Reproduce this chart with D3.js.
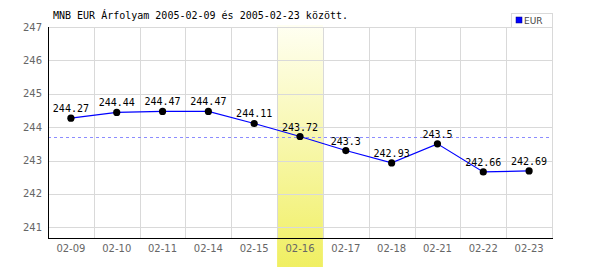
<!DOCTYPE html>
<html>
<head>
<meta charset="utf-8">
<script src="https://cdn.jsdelivr.net/npm/d3@7"></script>
<style>
  body { margin: 0; background: #fff; }
  svg { display: block; }
</style>
</head>
<body>
<svg id="chart-svg" width="600" height="270"></svg>
<script>
const dates = ["02-09", "02-10", "02-11", "02-14", "02-15", "02-16", "02-17", "02-18", "02-21", "02-22", "02-23"];
const rates = [244.27, 244.44, 244.47, 244.47, 244.11, 243.72, 243.3, 242.93, 243.5, 242.66, 242.69];
const yTicks = [241, 242, 243, 244, 245, 246, 247];
const highlighted = "02-16";
const titleText = "MNB EUR Árfolyam 2005-02-09 és 2005-02-23 között.";
const seriesName = "EUR";

const svg = d3.select("#chart-svg");
const margin = { top: 27, right: 48, bottom: 32, left: 48 };
const width = 600, height = 270;

const x = d3.scaleBand()
    .domain(dates)
    .range([margin.left, width - margin.right]);

const y = d3.scaleLinear()
    .domain([240.68, 247])
    .range([height - margin.bottom, margin.top]);

// reference line at the highlighted day's rate
const refRate = rates[dates.indexOf(highlighted)];

// highlight gradient for current day
const defs = svg.append("defs");
const grad = defs.append("linearGradient")
    .attr("id", "hl").attr("x1", 0).attr("y1", 0).attr("x2", 0).attr("y2", 1);
grad.append("stop").attr("offset", "0%").attr("stop-color", "#fffff2");
grad.append("stop").attr("offset", "100%").attr("stop-color", "#f0ef62");

svg.append("rect")
    .attr("x", x(highlighted))
    .attr("y", margin.top - 2)
    .attr("width", x.bandwidth())
    .attr("height", height - 3 - (margin.top - 2))
    .attr("fill", "url(#hl)");

// horizontal gridlines
svg.append("g")
    .selectAll("line")
    .data(yTicks)
    .join("line")
    .attr("x1", margin.left)
    .attr("x2", width - margin.right)
    .attr("y1", d => Math.round(y(d)) + 0.5)
    .attr("y2", d => Math.round(y(d)) + 0.5)
    .attr("stroke", "#d9d9d9");

// vertical gridlines (band edges)
svg.append("g")
    .selectAll("line")
    .data(dates)
    .join("line")
    .attr("x1", d => Math.round(x(d) + x.bandwidth()) + 0.5)
    .attr("x2", d => Math.round(x(d) + x.bandwidth()) + 0.5)
    .attr("y1", margin.top)
    .attr("y2", height - margin.bottom)
    .attr("stroke", "#d9d9d9");

// dashed reference line
svg.append("line")
    .attr("x1", margin.left)
    .attr("x2", width - margin.right)
    .attr("y1", Math.round(y(refRate)) + 0.5)
    .attr("y2", Math.round(y(refRate)) + 0.5)
    .attr("stroke", "#8c8cff")
    .attr("stroke-dasharray", "3,3");

// y axis labels
svg.append("g")
    .selectAll("text")
    .data(yTicks)
    .join("text")
    .attr("x", margin.left - 6)
    .attr("y", d => y(d))
    .attr("dy", "0.35em")
    .attr("text-anchor", "end")
    .attr("fill", "#666")
    .style("font", "10px 'DejaVu Sans'")
    .text(d => d);

// x axis labels
svg.append("g")
    .selectAll("text")
    .data(dates)
    .join("text")
    .attr("x", d => x(d) + x.bandwidth() / 2)
    .attr("y", height - margin.bottom + 14)
    .attr("text-anchor", "middle")
    .attr("fill", "#666")
    .style("font", "10px 'DejaVu Sans'")
    .text(d => d);

// axes
svg.append("line")
    .attr("x1", margin.left + 0.5).attr("x2", margin.left + 0.5)
    .attr("y1", margin.top).attr("y2", height - margin.bottom + 1)
    .attr("stroke", "#000");
svg.append("line")
    .attr("x1", margin.left).attr("x2", width - margin.right + 1)
    .attr("y1", height - margin.bottom + 0.5).attr("y2", height - margin.bottom + 0.5)
    .attr("stroke", "#000");

// series line
const line = d3.line()
    .x((d, i) => x(dates[i]) + x.bandwidth() / 2)
    .y(d => y(d));

svg.append("path")
    .datum(rates)
    .attr("d", line)
    .attr("fill", "none")
    .attr("stroke", "#0000ff")
    .attr("stroke-width", 1.2);

svg.append("g")
    .selectAll("circle")
    .data(rates)
    .join("circle")
    .attr("cx", (d, i) => x(dates[i]) + x.bandwidth() / 2)
    .attr("cy", d => y(d))
    .attr("r", 3.6)
    .attr("fill", "#000");

svg.append("g")
    .selectAll("text")
    .data(rates)
    .join("text")
    .attr("x", (d, i) => x(dates[i]) + x.bandwidth() / 2)
    .attr("y", d => y(d) - 6)
    .attr("text-anchor", "middle")
    .attr("fill", "#000")
    .style("font", "10px 'DejaVu Sans Mono'")
    .text(d => d);

// title
svg.append("text")
    .attr("x", 53)
    .attr("y", 19)
    .attr("fill", "#000")
    .style("font", "10px 'DejaVu Sans Mono'")
    .text(titleText);

// legend
const lg = svg.append("g").attr("transform", `translate(${width - margin.right - 41},13)`);
lg.append("rect")
    .attr("x", 0.5).attr("y", 0.5)
    .attr("width", 41).attr("height", 14)
    .attr("fill", "#fff")
    .attr("stroke", "#d9d9d9");
lg.append("rect")
    .attr("x", 5).attr("y", 4)
    .attr("width", 6).attr("height", 6)
    .attr("fill", "#0000ff")
    .attr("stroke", "#000080")
    .attr("stroke-width", 0.5);
lg.append("text")
    .attr("x", 13)
    .attr("y", 11)
    .attr("fill", "#444")
    .style("font", "9px 'DejaVu Sans'")
    .text(seriesName);
</script>
</body>
</html>
